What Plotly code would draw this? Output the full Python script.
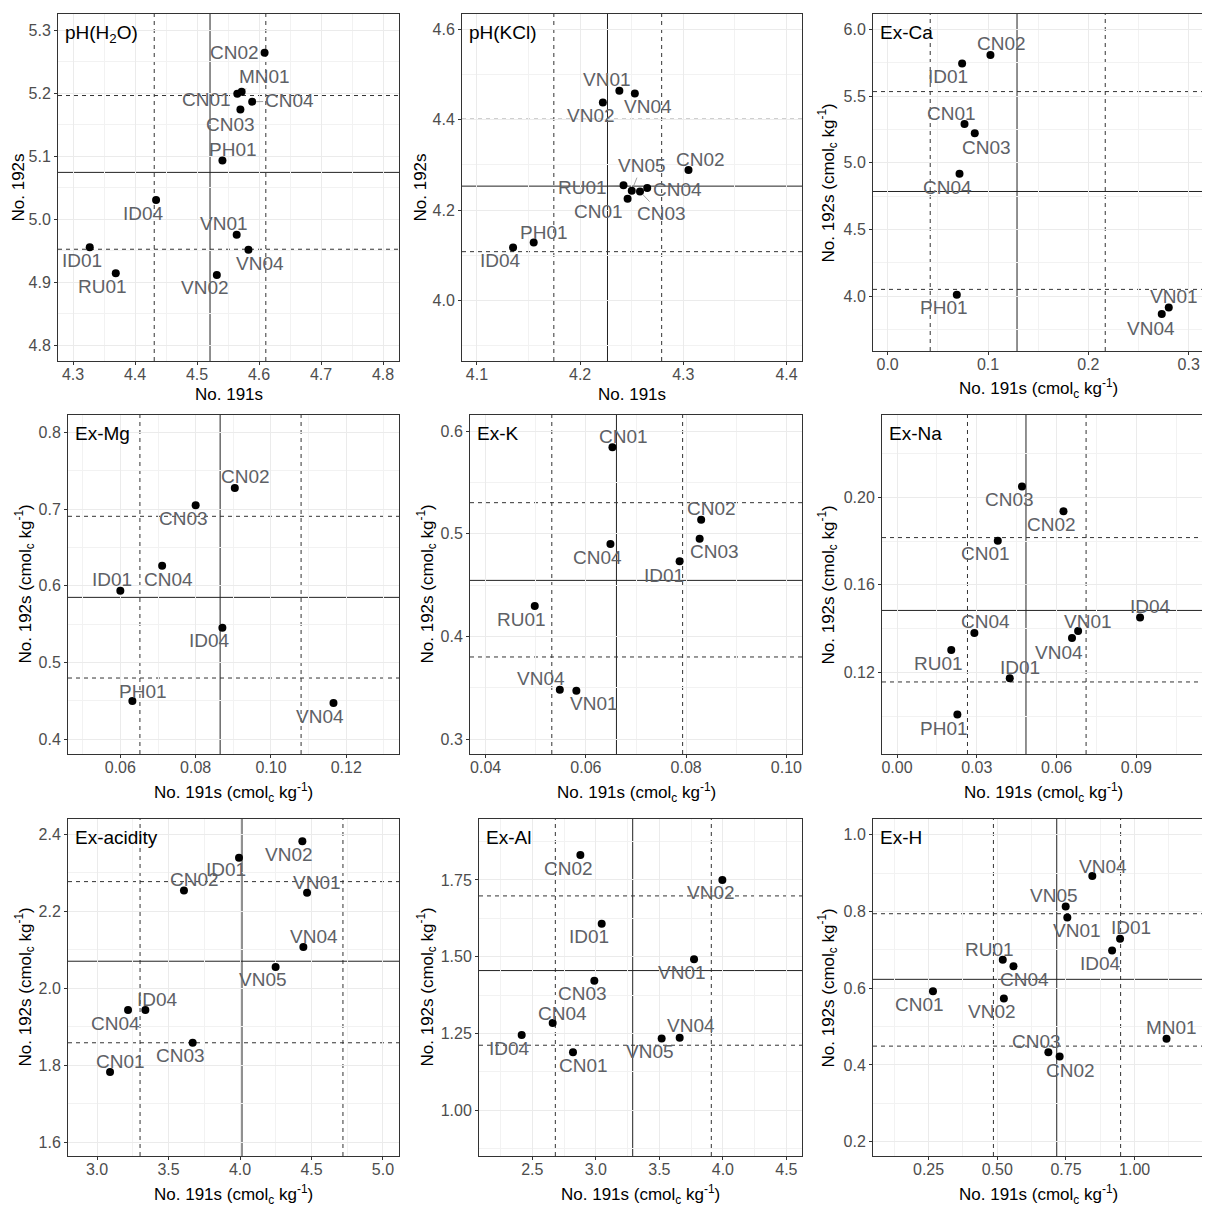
import plotly.graph_objects as go

# page has an 8px body margin, so the figure is slightly smaller and coordinates are shifted
OFF = 8
W, H = 1210 - OFF, 1207 - OFF

# ---------------- data ----------------
titles = ["pH(H<sub>2</sub>O)", "pH(KCl)", "Ex-Ca", "Ex-Mg", "Ex-K", "Ex-Na",
          "Ex-acidity", "Ex-Al", "Ex-H"]

sites_ph_h2o = ["CN02", "MN01", "CN01", "CN04", "CN03", "PH01", "ID04", "VN01", "VN04", "ID01", "RU01", "VN02"]
x_ph_h2o = [4.609, 4.572, 4.565, 4.589, 4.570, 4.541, 4.434, 4.564, 4.583, 4.327, 4.369, 4.532]
y_ph_h2o = [5.264, 5.202, 5.199, 5.186, 5.174, 5.093, 5.030, 4.975, 4.951, 4.955, 4.914, 4.911]
vref_ph_h2o = [4.431, 4.521, 4.611]
href_ph_h2o = [4.952, 5.074, 5.196]

sites_ph_kcl = ["VN01", "VN04", "VN02", "CN02", "RU01", "VN05", "CN03", "CN04", "CN01", "PH01", "ID04"]
x_ph_kcl = [4.238, 4.253, 4.222, 4.305, 4.242, 4.250, 4.258, 4.265, 4.246, 4.155, 4.135]
y_ph_kcl = [4.464, 4.458, 4.438, 4.289, 4.255, 4.243, 4.241, 4.249, 4.225, 4.128, 4.117]
vref_ph_kcl = [4.1745, 4.2265, 4.279]
href_ph_kcl = [4.108, 4.253, 4.401]

sites_ca = ["CN02", "ID01", "CN01", "CN03", "CN04", "PH01", "VN01", "VN04"]
x_ca = [0.1024, 0.0742, 0.0766, 0.0868, 0.0716, 0.0689, 0.2801, 0.2731]
y_ca = [5.810, 5.745, 5.2925, 5.2225, 4.9175, 4.010, 3.915, 3.865]
vref_ca = [0.0424, 0.1289, 0.2168]
href_ca = [4.050, 4.785, 5.535]

sites_mg = ["CN02", "CN03", "CN04", "ID01", "ID04", "PH01", "VN04"]
x_mg = [0.0904, 0.0800, 0.0711, 0.0600, 0.0871, 0.0632, 0.1166]
y_mg = [0.7275, 0.7049, 0.6263, 0.5937, 0.5455, 0.4499, 0.4473]
vref_mg = [0.0652, 0.0865, 0.1080]
href_mg = [0.4799, 0.5850, 0.6906]

sites_k = ["CN01", "CN02", "CN03", "CN04", "ID01", "RU01", "VN04", "VN01"]
x_k = [0.0653, 0.0830, 0.0827, 0.0649, 0.0787, 0.0498, 0.0548, 0.0581]
y_k = [0.5841, 0.5136, 0.4951, 0.4899, 0.4731, 0.4295, 0.3481, 0.3471]
vref_k = [0.0532, 0.0661, 0.0793]
href_k = [0.3799, 0.4545, 0.5302]

sites_na = ["CN03", "CN02", "CN01", "ID04", "VN01", "VN04", "CN04", "RU01", "ID01", "PH01"]
x_na = [0.0470, 0.0626, 0.0379, 0.0914, 0.0681, 0.0658, 0.0291, 0.0204, 0.0424, 0.0227]
y_na = [0.2050, 0.1936, 0.1802, 0.1451, 0.1389, 0.1357, 0.1380, 0.1302, 0.1173, 0.1007]
vref_na = [0.0265, 0.0485, 0.0711]
href_na = [0.1156, 0.1483, 0.1816]

sites_acid = ["VN02", "ID01", "CN02", "VN01", "VN04", "VN05", "CN04", "ID04", "CN03", "CN01"]
x_acid = [4.436, 3.993, 3.608, 4.469, 4.443, 4.249, 3.217, 3.338, 3.669, 3.091]
y_acid = [2.382, 2.339, 2.254, 2.248, 2.107, 2.055, 1.943, 1.943, 1.858, 1.782]
vref_acid = [3.301, 4.014, 4.720]
href_acid = [1.858, 2.070, 2.277]

sites_al = ["CN02", "VN02", "ID01", "VN01", "CN03", "CN04", "ID04", "VN05", "VN04", "CN01"]
x_al = [2.878, 3.996, 3.046, 3.773, 2.988, 2.660, 2.416, 3.518, 3.660, 2.820]
y_al = [1.831, 1.750, 1.607, 1.492, 1.422, 1.284, 1.245, 1.234, 1.236, 1.189]
vref_al = [2.681, 3.290, 3.909]
href_al = [1.212, 1.455, 1.698]

sites_h = ["VN04", "VN05", "VN01", "ID01", "ID04", "RU01", "CN04", "CN01", "VN02", "MN01", "CN03", "CN02"]
x_h = [0.846, 0.749, 0.755, 0.947, 0.918, 0.520, 0.559, 0.266, 0.524, 1.116, 0.686, 0.727]
y_h = [0.892, 0.813, 0.784, 0.729, 0.698, 0.674, 0.657, 0.592, 0.573, 0.468, 0.433, 0.422]
vref_h = [0.486, 0.7165, 0.949]
href_h = [0.449, 0.623, 0.794]

# ---------------- layout / style ----------------
# label offsets (px): dx, dy (down positive), segment?
offs = [
    {"CN02": (-30, 0, 0), "MN01": (23, -15, 1), "CN01": (-31, 6, 0), "CN04": (37, -1, 1), "CN03": (-10, 15, 0),
     "PH01": (11, -11, 0), "ID04": (-13, 13, 0), "VN01": (-13, -11, 0), "VN04": (12, 14, 0), "ID01": (-8, 13, 0),
     "RU01": (-13, 13, 0), "VN02": (-12, 12, 0)},
    {"VN01": (-12, -11, 0), "VN04": (13, 13, 0), "VN02": (-12, 13, 0), "CN02": (12, -10, 0), "VN05": (10, -25, 1),
     "RU01": (-41, 2, 1), "CN04": (30, 2, 0), "CN01": (-29, 13, 0), "CN03": (21, 22, 1), "PH01": (10, -10, 0),
     "ID04": (-13, 13, 0)},
    {"CN02": (11, -11, 0), "ID01": (-14, 13, 0), "CN01": (-13, -10, 0), "CN03": (12, 14, 0), "CN04": (-12, 14, 0),
     "PH01": (-13, 13, 0), "VN01": (5, -11, 0), "VN04": (-11, 14, 0)},
    {"CN02": (11, -11, 0), "CN03": (-12, 13, 0), "CN04": (6, 14, 0), "ID01": (-8, -11, 0), "ID04": (-13, 13, 0),
     "PH01": (11, -10, 0), "VN04": (-13, 13, 0)},
    {"CN01": (11, -11, 0), "CN02": (10, -11, 0), "CN03": (15, 13, 0), "CN04": (-13, 13, 0), "ID01": (-16, 14, 0),
     "RU01": (-13, 13, 0), "VN04": (-19, -11, 0), "VN01": (18, 13, 0)},
    {"CN03": (-12, 13, 0), "CN02": (-12, 13, 0), "CN01": (-12, 13, 0), "ID04": (10, -11, 0), "VN01": (10, -10, 0),
     "VN04": (-13, 14, 0), "CN04": (11, -11, 0), "RU01": (-13, 13, 0), "ID01": (10, -11, 0), "PH01": (-13, 14, 0)},
    {"VN02": (-13, 13, 0), "ID01": (-13, 12, 0), "CN02": (11, -11, 0), "VN01": (10, -10, 0), "VN04": (11, -11, 0),
     "VN05": (-13, 12, 0), "CN04": (-13, 13, 0), "ID04": (12, -11, 0), "CN03": (-12, 13, 0), "CN01": (10, -11, 0)},
    {"CN02": (-12, 13, 0), "VN02": (-11, 13, 0), "ID01": (-13, 13, 0), "VN01": (-12, 13, 0), "CN03": (-12, 13, 0),
     "CN04": (10, -10, 0), "ID04": (-12, 13, 0), "VN05": (-12, 13, 0), "VN04": (11, -12, 0), "CN01": (11, 13, 0)},
    {"VN04": (11, -10, 0), "VN05": (-12, -11, 0), "VN01": (10, 13, 0), "ID01": (11, -11, 0), "ID04": (-12, 13, 0),
     "RU01": (-13, -10, 0), "CN04": (11, 13, 0), "CN01": (-13, 13, 0), "VN02": (-12, 13, 0), "MN01": (5, -11, 0),
     "CN03": (-12, -11, 0), "CN02": (11, 14, 0)},
]

panels = [
    (sites_ph_h2o, x_ph_h2o, y_ph_h2o, vref_ph_h2o, href_ph_h2o),
    (sites_ph_kcl, x_ph_kcl, y_ph_kcl, vref_ph_kcl, href_ph_kcl),
    (sites_ca, x_ca, y_ca, vref_ca, href_ca),
    (sites_mg, x_mg, y_mg, vref_mg, href_mg),
    (sites_k, x_k, y_k, vref_k, href_k),
    (sites_na, x_na, y_na, vref_na, href_na),
    (sites_acid, x_acid, y_acid, vref_acid, href_acid),
    (sites_al, x_al, y_al, vref_al, href_al),
    (sites_h, x_h, y_h, vref_h, href_h),
]

# pixel boxes in screen coords (left, right, top, bottom)
boxes = [(58, 399, 14, 361), (462, 802, 14, 361), (873, 1204, 14, 351),
         (68, 399, 415, 754), (470, 802, 415, 754), (882, 1204, 415, 754),
         (68, 399, 819, 1156), (479, 802, 819, 1156), (873, 1204, 819, 1156)]

# axis settings: (xrange, xdtick, xtick0, xfmt, yrange, ydtick, ytick0, yfmt)
axes_cfg = [
    ((4.2758, 4.8258), 0.1, 0, ".1f", (4.7746, 5.3254), 0.1, 0, ".1f"),
    ((4.0855, 4.415), 0.1, 0, ".1f", (3.866, 4.634), 0.2, 0, ".1f"),
    ((-0.0146, 0.3152), 0.1, 0, ".1f", (3.5875, 6.1175), 0.5, 0, ".1f"),
    ((0.0461, 0.1340), 0.02, 0, ".2f", (0.3809, 0.8226), 0.1, 0, ".1f"),
    ((0.03688, 0.10312), 0.02, 0, ".2f", (0.2854, 0.6156), 0.1, 0, ".1f"),
    ((-0.00564, 0.11544), 0.03, 0, ".2f", (0.08267, 0.23764), 0.04, 0, ".2f"),
    ((2.797, 5.112), 0.5, 0, ".1f", (1.5636, 2.4398), 0.2, 0, ".1f"),
    ((2.080, 4.623), 0.5, 0, ".1f", (0.8515, 1.9483), 0.25, 0, ".2f"),
    ((0.0477, 1.2525), 0.25, 0, ".2f", (0.1627, 1.0408), 0.2, 0, ".1f"),
]

unit_x = "No. 191s (cmol<sub>c</sub> kg<sup>-1</sup>)"
unit_y = "No. 192s (cmol<sub>c</sub> kg<sup>-1</sup>)"
xtitles = ["No. 191s", "No. 191s"] + [unit_x] * 7
ytitles = ["No. 192s", "No. 192s"] + [unit_y] * 7
# title positions in screen px: (x-title y center, y-title x center)
xtitle_y = [394, 394, 389, 792, 792, 792, 1194, 1194, 1194]
ytitle_x = [18, 420, 828, 25, 427, 828, 25, 427, 828]


def px(v):
    return (v - OFF) / W


def py(v):
    return 1 - (v - OFF) / H


FONT = "Liberation Sans, Arial, sans-serif"
GRID = "#EBEBEB"
LABEL_C = "#5E6166"

fig = go.Figure()
annotations = []
shapes = []

for i, ((sites, xs, ys, vref, href), box, cfg, off) in enumerate(zip(panels, boxes, axes_cfg, offs), start=1):
    sfx = "" if i == 1 else str(i)
    xa, ya = "x" + sfx, "y" + sfx
    l, r, t, b = box
    xr, xdt, xt0, xfmt, yr, ydt, yt0, yfmt = cfg

    common = dict(showgrid=True, gridcolor=GRID, gridwidth=1, zeroline=False,
                  showline=True, mirror=True, linecolor="#333333", linewidth=1,
                  ticks="outside", ticklen=3, tickcolor="#333333", tickwidth=1,
                  tickfont=dict(family=FONT, size=16, color="#4D4D4D"))
    fig.layout["xaxis" + sfx] = dict(domain=[px(l), px(r)], range=list(xr), anchor=ya,
                                     tickmode="linear", dtick=xdt, tick0=xt0, tickformat=xfmt,
                                     ticklabelstandoff=-4,
                                     minor=dict(dtick=xdt / 2, tick0=xt0, showgrid=True,
                                                gridcolor="#F2F2F2", gridwidth=0.6, ticks=""),
                                     **common)
    fig.layout["yaxis" + sfx] = dict(domain=[py(b), py(t)], range=list(yr), anchor=xa,
                                     tickmode="linear", dtick=ydt, tick0=yt0, tickformat=yfmt,
                                     minor=dict(dtick=ydt / 2, tick0=yt0, showgrid=True,
                                                gridcolor="#F2F2F2", gridwidth=0.6, ticks=""),
                                     **common)

    # reference lines (mean solid, +/- SD dashed)
    for k, v in enumerate(vref):
        shapes.append(dict(type="line", xref=xa, yref=ya + " domain", x0=v, x1=v, y0=0, y1=1,
                           layer="below",
                           line=dict(color="#222222" if k == 1 else "#333333", width=1,
                                     dash="solid" if k == 1 else "4px,4px")))
    for k, v in enumerate(href):
        shapes.append(dict(type="line", xref=xa + " domain", yref=ya, x0=0, x1=1, y0=v, y1=v,
                           layer="below",
                           line=dict(color="#222222" if k == 1 else "#333333", width=1,
                                     dash="solid" if k == 1 else "4px,4px")))

    fig.add_trace(go.Scatter(x=xs, y=ys, mode="markers", xaxis=xa, yaxis=ya,
                             marker=dict(color="black", size=8), hoverinfo="skip", showlegend=False))

    # point labels
    for s, xv, yv in zip(sites, xs, ys):
        dx, dy, seg = off[s]
        annotations.append(dict(x=xv, y=yv, xref=xa, yref=ya, text=s, showarrow=True,
                                ax=dx, ay=dy, arrowhead=0, arrowwidth=0.8, standoff=4,
                                arrowcolor="#8A8A8A" if seg else "rgba(0,0,0,0)",
                                font=dict(family=FONT, size=19, color=LABEL_C)))

    # panel title
    annotations.append(dict(x=0, y=1, xref=xa + " domain", yref=ya + " domain", text=titles[i - 1],
                            showarrow=False, xanchor="left", yanchor="top", xshift=5, yshift=-6,
                            font=dict(family=FONT, size=19, color="black")))

    # axis titles
    annotations.append(dict(x=px((l + r) / 2), y=py(xtitle_y[i - 1]), xref="paper", yref="paper",
                            text=xtitles[i - 1], showarrow=False, xanchor="center", yanchor="middle",
                            font=dict(family=FONT, size=17, color="black")))
    annotations.append(dict(x=px(ytitle_x[i - 1]), y=py((t + b) / 2), xref="paper", yref="paper",
                            text=ytitles[i - 1], showarrow=False, textangle=-90,
                            xanchor="center", yanchor="middle",
                            font=dict(family=FONT, size=17, color="black")))

fig.update_layout(width=W, height=H, margin=dict(l=0, r=0, t=0, b=0),
                  paper_bgcolor="white", plot_bgcolor="white",
                  annotations=annotations, shapes=shapes, showlegend=False)

fig.write_html("out.html")
